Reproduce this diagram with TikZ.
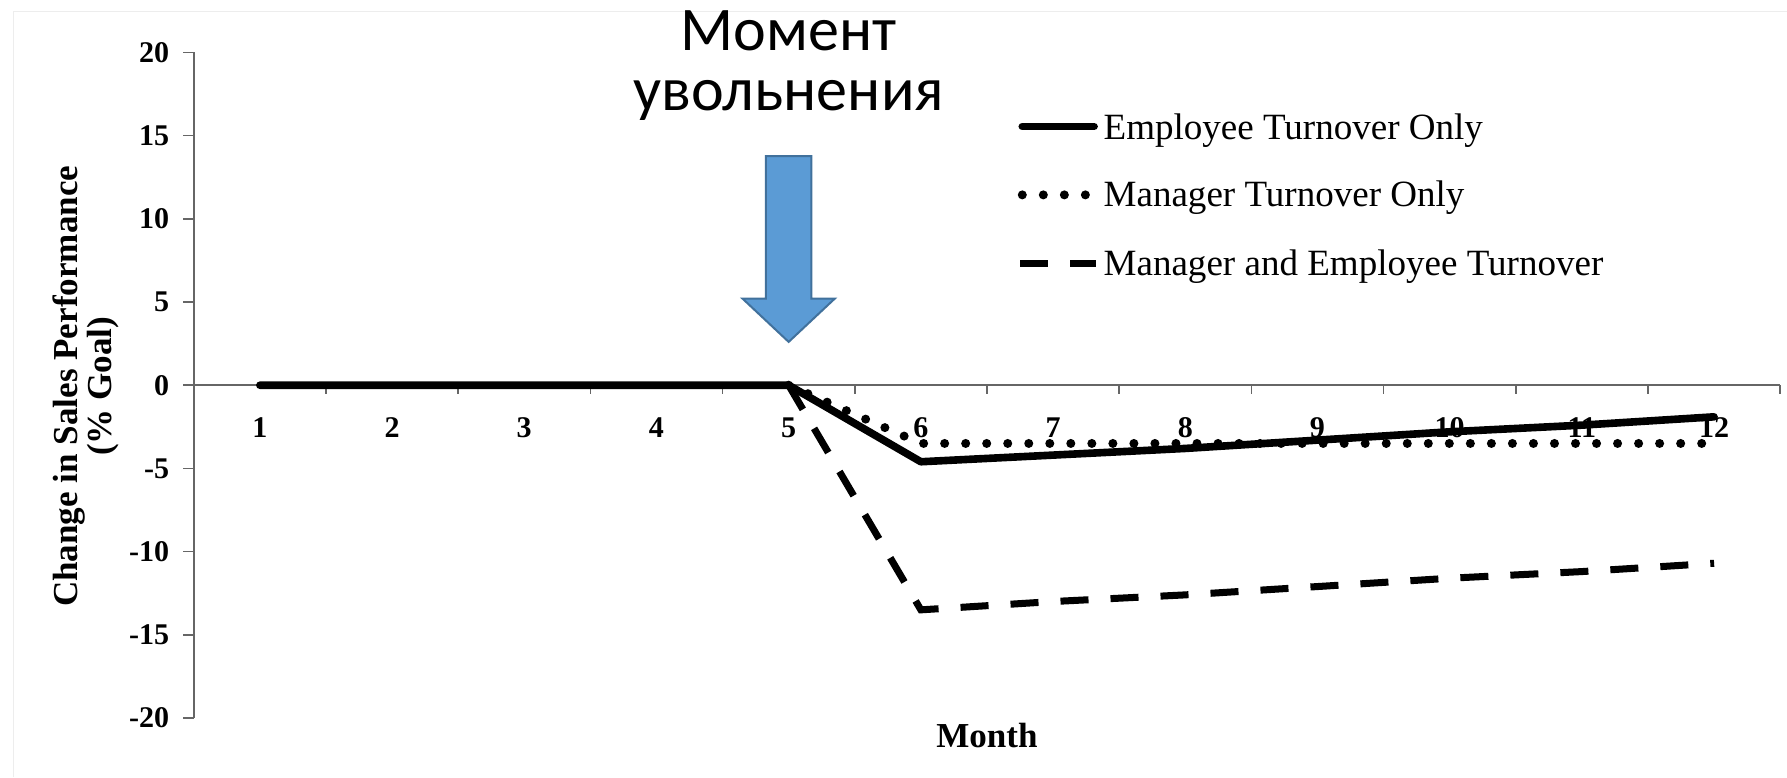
\documentclass[tikz,border=0pt]{standalone}
\usepackage{fontspec}
\setmainfont{Liberation Serif}
\newfontfamily\titlefont{Carlito}
\usetikzlibrary{positioning}
\definecolor{arrowblue}{HTML}{5B9BD5}
\definecolor{arrowedge}{HTML}{41719C}

\begin{document}
\begin{tikzpicture}[
    axisline/.style={draw=black!60, line width=0.8pt},
    ticklab/.style={font=\fontsize{15}{15}\selectfont\bfseries, inner sep=1pt},
    axtitle/.style={font=\fontsize{17.5}{17}\selectfont\bfseries, align=center},
    legtext/.style={font=\fontsize{18.5}{18}\selectfont, anchor=base west, inner sep=0pt},
    empline/.style={line width=3.8pt, line join=round, line cap=round},
    mgrline/.style={line width=4.5pt, line cap=round, dash pattern=on 0pt off 10.5pt},
    bothline/.style={line width=3.5pt, dash pattern=on 14pt off 11pt},
  ]
  \useasboundingbox (0,0) rectangle (31.36,13.64);
  \draw[black!7] (0.24,0) -- (0.24,13.44) -- (31.36,13.44);

  % chart in data units: month along x, change in % along y
  \begin{scope}[shift={(2.24,6.88)}, x=2.32cm, y=0.292cm]
    \draw[axisline] (0.5,-20) -- (0.5,20);
    \draw[axisline] (0.5,0) -- (12.5,0);
    \foreach \v [count=\i] in {-20,-15,...,20} {
      \draw[axisline] (0.5,\v) -- ++(-0.18cm,0);
      \node[ticklab, anchor=east] (yt\i) at ([xshift=-0.39cm]0.5,\v) {\v};
    }
    \foreach \m in {1.5,2.5,...,12.5}
      \draw[axisline] (\m,0) -- ++(0,-0.16cm);
    \foreach \m in {1,...,12}
      \node[ticklab] (xt\m) at ([yshift=-0.74cm]\m,0) {\m};

    \draw[bothline] (5,0) -- (6,-13.5) -- (7,-13.0) -- (8,-12.6) -- (9,-12.1)
      -- (10,-11.6) -- (11,-11.2) -- (12,-10.7);
    \draw[mgrline] (5,0) -- (6,-3.5) -- (12,-3.5);
    \draw[empline] (1,0) -- (5,0) -- (6,-4.6) -- (7,-4.2) -- (8,-3.8) -- (9,-3.3)
      -- (10,-2.8) -- (11,-2.4) -- (12,-1.9);
  \end{scope}

  \node[axtitle, rotate=90] (ylab) at (1.5,6.86) {Change in Sales Performance\\(\% Goal)};
  \node[axtitle] (xlab) at (17.32,0.74) {Month};

  % legend
  \node[legtext] (legemp) at (19.36,11.2) {Employee Turnover Only};
  \node[legtext] (legmgr) at (19.36,10.01) {Manager Turnover Only};
  \node[legtext] (legboth) at (19.36,8.81) {Manager and Employee Turnover};
  \draw[empline] (17.94,11.42) -- (19.2,11.42);
  \draw[mgrline] (17.94,10.22) -- (19.06,10.22);
  \draw[bothline] (17.9,9.02) -- (19.24,9.02);

  % moment of dismissal
  \node[font=\fontsize{31}{30}\titlefont, align=center] (moment) at (13.84,12.49) {Момент\\увольнения};
  \coordinate (tip) at (13.84,7.64);
  \draw[arrowedge, fill=arrowblue, line width=1pt] (tip) -- ++(0.81,0.76) -- ++(-0.41,0)
    -- ++(0,2.5) -- ++(-0.8,0) -- ++(0,-2.5) -- ++(-0.41,0) -- cycle;
\end{tikzpicture}
\end{document}
